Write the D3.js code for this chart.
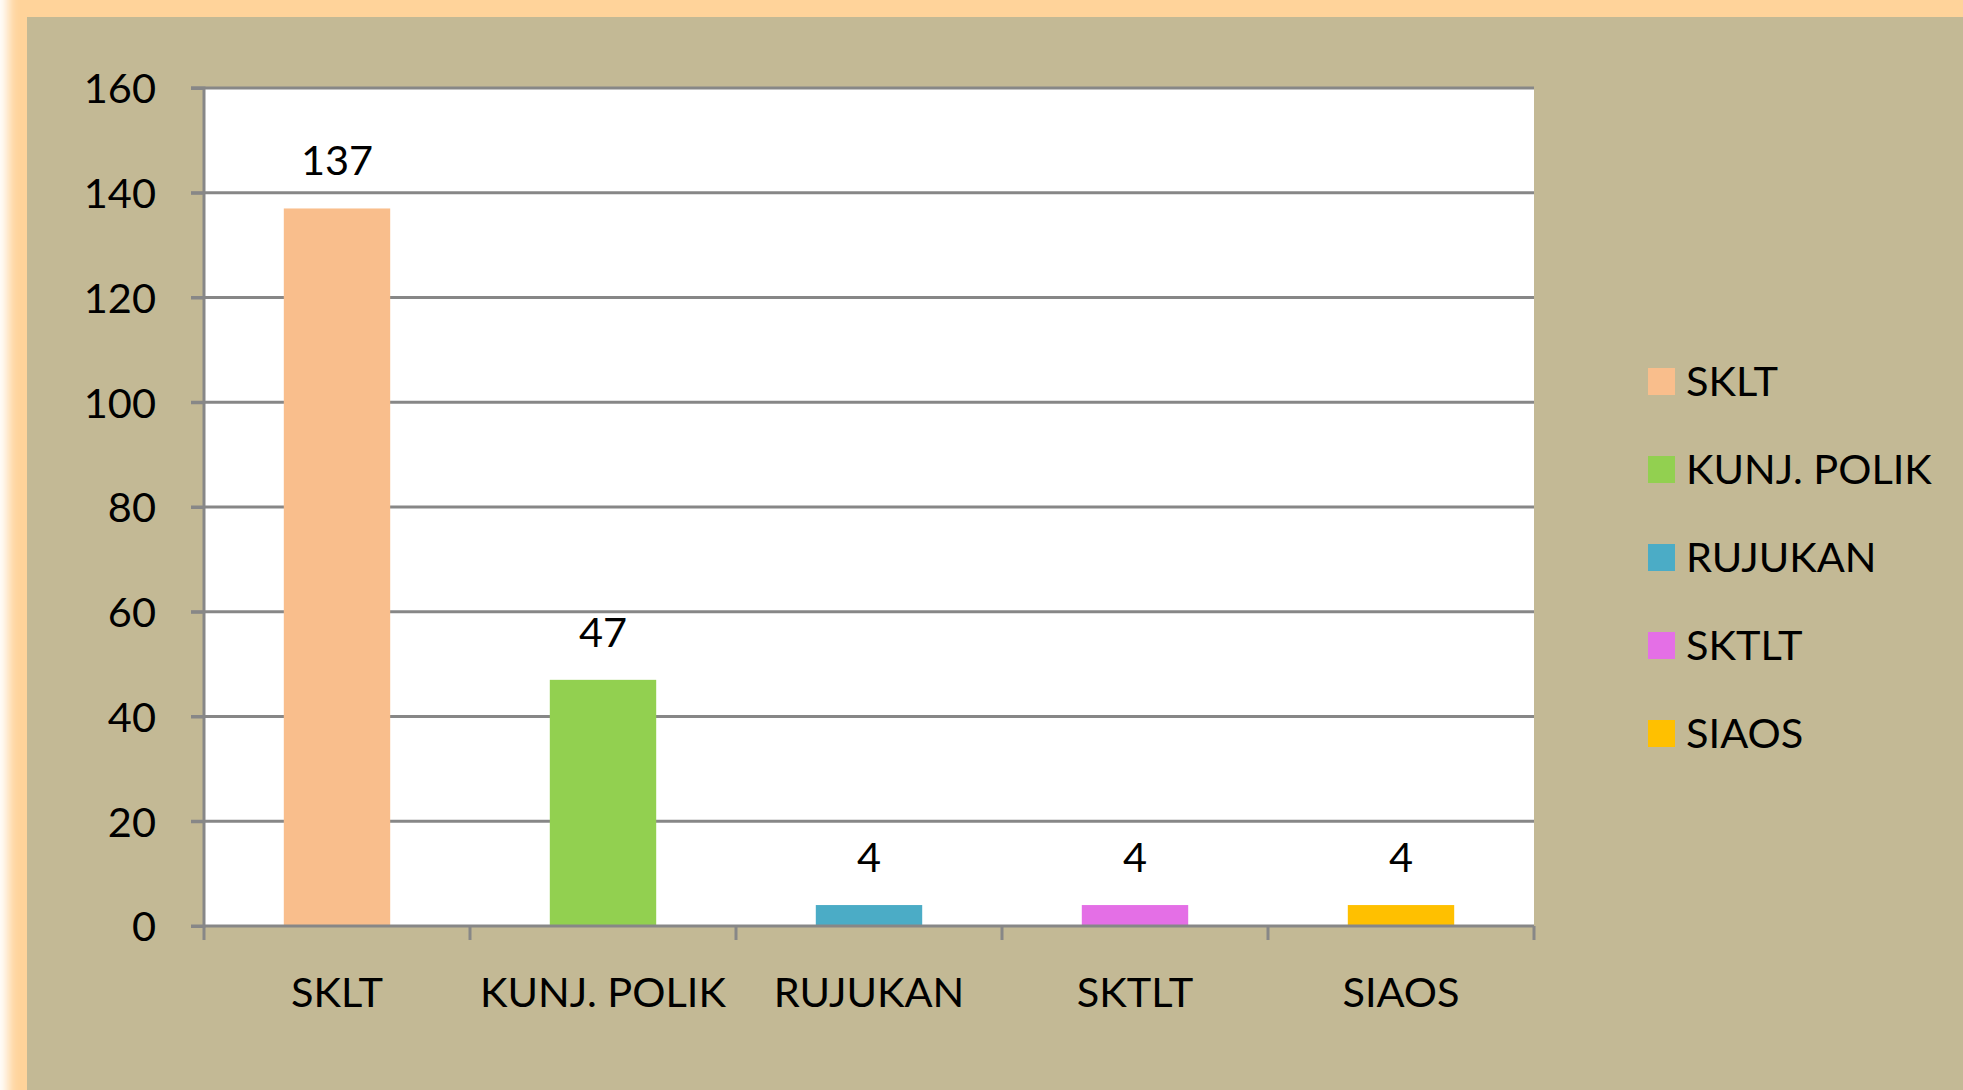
<!DOCTYPE html>
<html><head><meta charset="utf-8">
<script src="https://cdn.jsdelivr.net/npm/d3@7/dist/d3.min.js"></script>
<style>html,body{margin:0;padding:0;background:#fff;overflow:hidden}svg{display:block}</style>
</head><body>
<script>
const categories = ["SKLT", "KUNJ. POLIK", "RUJUKAN", "SKTLT", "SIAOS"];
const values = [137, 47, 4, 4, 4];
const colors = ["#F9BE8C", "#92D050", "#4BACC6", "#E46FE6", "#FFC000"];
const yTicks = [0, 20, 40, 60, 80, 100, 120, 140, 160];

(function () {
const W = 1963, H = 1090;
const FONT = "Lato, 'Open Sans', sans-serif";
const FS = 41.5;

const svg = d3.select("body").append("svg").attr("width", W).attr("height", H);
const defs = svg.append("defs");
defs.append("filter").attr("id", "glow").attr("x", "-5%").attr("y", "-5%").attr("width", "110%").attr("height", "110%")
  .append("feGaussianBlur").attr("stdDeviation", 6);

svg.append("rect").attr("x", 0).attr("y", 0).attr("width", W).attr("height", H).attr("fill", "#fff");
svg.append("rect").attr("x", 8).attr("y", -40).attr("width", W + 60).attr("height", H + 80).attr("rx", 30)
  .attr("fill", "#FFD39A").attr("filter", "url(#glow)");
svg.append("rect").attr("x", 27).attr("y", 17).attr("width", W).attr("height", H).attr("fill", "#C3B995");

const pL = 204, pR = 1534, pT = 88, pB = 926;
const x = d3.scaleBand().domain(categories).range([pL, pR]).paddingInner(0.6).paddingOuter(0.3);
const y = d3.scaleLinear().domain([0, 160]).range([pB, pT]);

svg.append("rect").attr("x", pL).attr("y", pT).attr("width", pR - pL).attr("height", pB - pT).attr("fill", "#fff");

const gridCol = "#878787";
svg.append("g").selectAll("line").data(yTicks.filter(d => d > 0)).join("line")
  .attr("x1", pL - 13).attr("x2", pR).attr("y1", d => y(d)).attr("y2", d => y(d))
  .attr("stroke", gridCol).attr("stroke-width", 3);

svg.append("g").selectAll("rect").data(values).join("rect")
  .attr("x", (d, i) => x(categories[i])).attr("width", x.bandwidth())
  .attr("y", d => y(d)).attr("height", d => y(0) - y(d))
  .attr("fill", (d, i) => colors[i]);

const yAxis = d3.axisLeft(y).tickValues(yTicks).tickSize(13).tickPadding(35).tickFormat(d3.format("d"));
const gy = svg.append("g").attr("transform", `translate(${pL},0)`).call(yAxis);
gy.select(".domain").attr("stroke", gridCol).attr("stroke-width", 3).attr("d", `M-13,${pT}H0V${pB}H-13`);
gy.selectAll(".tick line").attr("stroke", gridCol).attr("stroke-width", 3);
gy.selectAll(".tick text").attr("font-family", FONT).attr("font-size", FS).attr("fill", "#000").attr("dy", "0.36em");

const gx = svg.append("g");
gx.append("line").attr("x1", pL).attr("x2", pR).attr("y1", pB).attr("y2", pB)
  .attr("stroke", gridCol).attr("stroke-width", 3);
const step = x.step();
gx.selectAll("line.t").data(d3.range(categories.length + 1)).join("line").attr("class", "t")
  .attr("x1", i => pL + i * step).attr("x2", i => pL + i * step)
  .attr("y1", pB).attr("y2", pB + 14).attr("stroke", gridCol).attr("stroke-width", 3);
gx.selectAll("text").data(categories).join("text")
  .attr("x", d => x(d) + x.bandwidth() / 2).attr("y", 1007)
  .attr("text-anchor", "middle").attr("font-family", FONT).attr("font-size", FS).attr("fill", "#000").text(d => d);

svg.append("g").selectAll("text").data(values).join("text")
  .attr("x", (d, i) => x(categories[i]) + x.bandwidth() / 2).attr("y", d => y(d) - 33)
  .attr("text-anchor", "middle").attr("font-family", FONT).attr("font-size", FS).attr("fill", "#000").text(d => d);

const lg = svg.append("g").attr("transform", "translate(1648,368)");
const items = lg.selectAll("g").data(categories).join("g").attr("transform", (d, i) => `translate(0,${i * 88})`);
items.append("rect").attr("width", 27).attr("height", 27).attr("fill", (d, i) => colors[i]);
items.append("text").attr("x", 38).attr("y", 13.5).attr("dy", "0.36em")
  .attr("font-family", FONT).attr("font-size", FS).attr("fill", "#000").text(d => d);
})();
</script>
</body></html>
